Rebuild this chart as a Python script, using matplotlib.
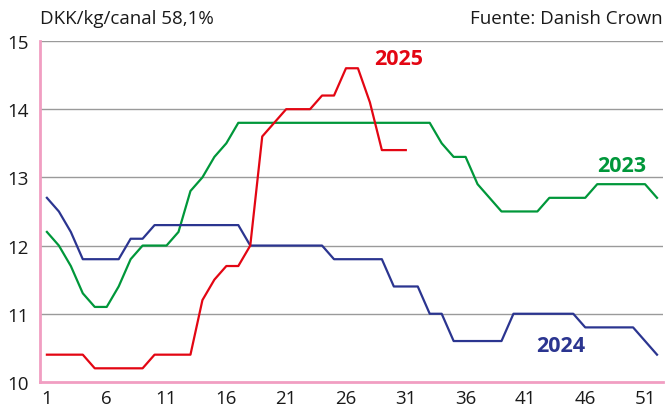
import numpy as np
import matplotlib
matplotlib.use('Agg')
import matplotlib.pyplot as plt

plt.rcParams['font.family'] = ['Open Sans', 'DejaVu Sans']

# semanas y precios (DKK/kg canal)
weeks_2023 = list(range(1, 53))
price_2023 = [12.2, 12.0, 11.7, 11.3, 11.1, 11.1, 11.4, 11.8, 12.0, 12.0,
              12.0, 12.2, 12.8, 13.0, 13.3, 13.5, 13.8, 13.8, 13.8, 13.8,
              13.8, 13.8, 13.8, 13.8, 13.8, 13.8, 13.8, 13.8, 13.8, 13.8,
              13.8, 13.8, 13.8, 13.5, 13.3, 13.3, 12.9, 12.7, 12.5, 12.5,
              12.5, 12.5, 12.7, 12.7, 12.7, 12.7, 12.9, 12.9, 12.9, 12.9,
              12.9, 12.7]

weeks_2024 = list(range(1, 53))
price_2024 = [12.7, 12.5, 12.2, 11.8, 11.8, 11.8, 11.8, 12.1, 12.1, 12.3,
              12.3, 12.3, 12.3, 12.3, 12.3, 12.3, 12.3, 12.0, 12.0, 12.0,
              12.0, 12.0, 12.0, 12.0, 11.8, 11.8, 11.8, 11.8, 11.8, 11.4,
              11.4, 11.4, 11.0, 11.0, 10.6, 10.6, 10.6, 10.6, 10.6, 11.0,
              11.0, 11.0, 11.0, 11.0, 11.0, 10.8, 10.8, 10.8, 10.8, 10.8,
              10.6, 10.4]

weeks_2025 = list(range(1, 32))
price_2025 = [10.4, 10.4, 10.4, 10.4, 10.2, 10.2, 10.2, 10.2, 10.2, 10.4,
              10.4, 10.4, 10.4, 11.2, 11.5, 11.7, 11.7, 12.0, 13.6, 13.8,
              14.0, 14.0, 14.0, 14.2, 14.2, 14.6, 14.6, 14.1, 13.4, 13.4,
              13.4]

xticks = [1, 6, 11, 16, 21, 26, 31, 36, 41, 46, 51]
yticks = [10, 11, 12, 13, 14, 15]

red = '#e30613'
green = '#00973a'
blue = '#2b3590'
pink = '#f19ec2'

fig = plt.figure(figsize=(6.66, 4.14), dpi=100)
ax = fig.add_axes([0.060, 0.075, 0.9355, 0.8236])

for v in yticks[1:]:
    ax.axhline(v, color='#9a9a9a', lw=1.0, zorder=1)

ax.plot(weeks_2023, price_2023, color=green, lw=1.6, zorder=3)
ax.plot(weeks_2024, price_2024, color=blue, lw=1.6, zorder=3)
ax.plot(weeks_2025, price_2025, color=red, lw=1.6, zorder=4)

ax.set_xlim(0.42, 52.5)
ax.set_ylim(10, 15)
ax.set_xticks(xticks)
ax.set_yticks(yticks)
ax.tick_params(length=0, labelsize=13.5, colors='#1a1a1a', pad=5)
ax.tick_params(axis='y', pad=8)

for s in ['top', 'right']:
    ax.spines[s].set_visible(False)
ax.spines['left'].set_color(pink)
ax.spines['bottom'].set_color(pink)
ax.spines['left'].set_linewidth(2)
ax.spines['bottom'].set_linewidth(2)

ax.text(30.43, 14.74, '2025', color=red, fontsize=15.5, fontweight='bold',
        ha='center', va='center')
ax.text(49.08, 13.17, '2023', color=green, fontsize=15.5, fontweight='bold',
        ha='center', va='center')
ax.text(43.98, 10.53, '2024', color=blue, fontsize=15.5, fontweight='bold',
        ha='center', va='center')

fig.text(0.060, 0.954, 'DKK/kg/canal 58,1%', fontsize=13.5, color='#1a1a1a',
         ha='left', va='center')
fig.text(0.9955, 0.954, 'Fuente: Danish Crown', fontsize=13.5, color='#1a1a1a',
         ha='right', va='center')

fig.savefig('out.png', dpi=100)
